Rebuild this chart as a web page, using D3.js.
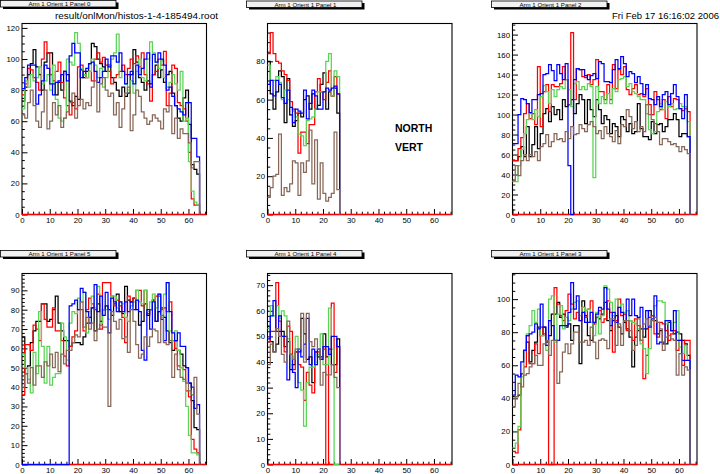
<!DOCTYPE html>
<html><head><meta charset="utf-8">
<script src="https://cdn.jsdelivr.net/npm/d3@7"></script>
<style>
body{margin:0;background:#fff}
svg{display:block}
text{font-family:"Liberation Sans",Arial,Helvetica,sans-serif}
</style>
</head><body><svg id="c" width="720" height="474"></svg>
<script>
// ---------- data ----------
const panelTitles = ["Arm 1 Orient 1 Panel 0","Arm 1 Orient 1 Panel 1","Arm 1 Orient 1 Panel 2",
                     "Arm 1 Orient 1 Panel 5","Arm 1 Orient 1 Panel 4","Arm 1 Orient 1 Panel 3"];
const fileLabel = "result/onlMon/histos-1-4-185494.root";
const dateLabel = "Fri Feb 17 16:16:02 2006";
const noteLines = ["NORTH","VERT"];
const xTickValues = [0,10,20,30,40,50,60];
const xAxisMax = 66.5;
const yMajorStep = [20,20,20,10,10,20];
const yMinorStep = [5,5,5,2,2,5];

// Panel 0
const p0Black = [73,82,90,97,106,95,90,80,98,104,104,84,77,85,80,92,90,73,70,76,74,93,88,92,97,110,108,100,97,95,92,96,88,85,80,76,82,76,78,90,106,98,88,85,80,86,84,90,96,88,93,85,90,92,78,70,62,60,75,80,58,32,29,26];
const p0Red   = [77,84,94,93,88,85,80,100,111,104,90,86,92,98,85,75,70,64,72,68,95,96,90,88,92,86,100,104,98,101,96,92,84,88,90,92,96,90,94,100,97,102,95,104,90,84,73,90,92,100,96,105,70,78,96,94,72,70,68,60,40,10,6,6];
const p0Green = [68,86,82,90,86,88,95,84,86,90,80,96,74,62,60,62,100,98,96,117,110,94,90,88,92,100,96,88,94,82,88,96,100,104,116,88,92,84,80,86,78,92,100,88,86,100,111,104,98,94,99,88,82,85,90,84,80,92,60,62,34,15,8,6];
const p0Blue  = [81,88,96,96,96,71,77,86,96,94,84,77,85,86,90,92,86,102,110,104,104,88,92,94,97,98,92,85,88,92,100,95,102,102,98,104,92,84,90,92,84,96,90,94,100,104,82,103,98,104,100,96,80,82,76,70,68,66,64,72,72,49,49,37];
const p0Brown = [64,62,72,80,70,60,56,66,80,55,60,72,64,70,56,62,66,72,78,62,70,74,68,72,70,82,86,66,84,88,80,76,78,64,72,56,68,78,82,54,64,80,76,66,62,58,60,64,62,60,55,68,66,70,52,62,49,55,52,52,46,30,34,34];

// Panel 1
const p1Black = [80,63,55,64,75,72,48,71,52,46,49,53,51,60,62,55,63,55,57,68,74,55,64,62,66,53];
const p1Red   = [84,95,84,80,79,75,73,70,59,55,53,32,43,43,37,47,47,64,71,64,60,69,75,62,72,63];
const p1Green = [78,70,70,72,69,60,65,60,56,54,51,42,41,36,49,50,51,55,64,64,64,80,84,62,75,72];
const p1Blue  = [68,70,62,70,68,61,58,65,56,48,55,54,53,65,50,58,65,62,55,55,64,66,65,66,67,63];
const p1Brown = [9,14,20,21,42,10,14,12,16,28,27,10,27,22,28,44,16,39,8,27,11,7,9,11,43,13];

// Panel 2
const p2Black = [54,54,58,68,58,88,58,70,88,66,81,101,106,93,108,100,105,95,115,108,110,115,101,111,120,115,91,115,105,98,115,105,91,99,95,81,91,88,78,98,95,83,91,81,83,111,86,78,78,75,93,81,90,91,83,88,95,95,101,95,78,81,81,78];
const p2Red   = [54,54,66,77,101,111,96,101,90,148,88,123,130,103,130,128,128,131,148,135,110,182,115,146,145,138,137,140,130,135,155,123,123,115,130,115,150,126,145,140,148,125,120,126,130,120,121,118,126,110,100,123,115,105,115,96,118,108,116,115,106,104,106,103];
const p2Green = [33,33,49,65,81,95,101,95,105,98,118,129,123,111,125,118,125,128,126,135,125,108,131,133,125,128,125,131,128,37,128,111,118,111,121,111,126,123,135,136,138,128,131,123,121,118,115,115,101,85,81,83,103,111,105,113,108,111,105,106,111,108,108,93];
const p2Blue  = [71,71,100,116,115,111,102,115,115,120,121,140,141,150,144,134,150,141,135,151,49,0,135,146,145,145,139,135,139,141,136,153,151,133,133,132,145,155,146,158,151,138,143,141,132,138,131,120,130,116,115,110,118,108,120,123,110,121,130,118,106,96,120,78];
const p2Brown = [34,49,39,54,60,54,60,58,63,54,68,71,80,68,73,81,75,76,73,83,76,88,80,81,90,86,83,90,93,88,81,84,76,88,81,78,73,84,71,90,88,105,98,86,93,83,88,83,110,100,95,91,83,70,76,76,73,70,71,68,63,68,65,61];

// Panel 5 (bottom left)
const p3Black = [66,47,51,63,69,74,74,83,83,74,75,80,87,73,69,64,64,61,63,63,63,62,66,73,76,81,69,83,74,80,82,80,77,83,88,79,78,92,85,84,86,80,72,74,83,77,80,85,74,79,81,76,69,63,59,64,59,57,51,50,42,33,19,18];
const p3Red   = [36,62,62,59,72,70,64,83,75,71,71,81,69,69,64,56,51,61,66,69,80,80,69,80,86,83,80,88,70,94,94,94,87,82,85,82,76,63,87,84,86,90,90,82,90,78,80,85,87,87,80,81,79,84,64,60,51,50,49,38,35,13,8,6];
const p3Green = [57,50,44,37,58,47,79,61,42,61,41,45,47,47,73,66,54,73,79,78,86,84,89,68,79,87,81,92,73,80,80,75,87,87,81,84,83,76,74,82,84,90,84,83,90,79,84,88,81,88,76,88,94,69,64,69,59,50,43,30,15,6,6,5];
const p3Blue  = [0,0,0,0,0,0,0,0,0,0,0,0,0,0,0,0,0,82,83,85,80,91,89,79,73,81,93,79,87,77,89,68,86,84,79,84,79,84,79,84,80,85,79,59,54,80,70,84,74,88,75,64,94,79,68,64,68,61,61,50,42,40,29,31];
const p3Brown = [40,47,42,50,41,51,51,45,53,51,57,50,58,48,57,52,59,59,63,67,66,84,71,76,70,73,64,70,72,71,71,30,79,74,70,75,65,66,58,80,74,62,55,57,66,61,66,70,69,63,77,63,62,64,45,57,49,45,44,42,38,36,45,26];

// Panel 4 (bottom middle)
const p4Black = [54,48,44,47,52,52,46,48,37,39,44,44,57,51,41,42,32,44,42,42,51,42,45,39,39,49];
const p4Red   = [48,52,52,71,56,50,44,54,52,37,44,39,38,25,36,31,28,44,44,41,45,0,45,63,36,46];
const p4Green = [53,62,58,62,57,60,58,49,39,42,50,32,29,15,32,38,38,40,43,51,39,39,61,45,0,0];
const p4Blue  = [49,58,64,52,58,50,50,33,43,36,30,45,42,47,57,39,45,39,45,41,46,46,43,50,50,46];
const p4Brown = [39,47,44,53,50,43,40,56,43,41,45,45,59,40,59,48,46,49,45,31,36,35,35,39,34,30];

// Panel 3 (bottom right)
const p5Black = [41,41,42,55,69,74,62,69,74,83,78,83,74,78,91,91,98,89,91,83,85,75,84,84,61,99,90,78,75,85,89,88,91,98,87,81,87,90,83,79,86,82,77,59,77,81,82,77,82,93,90,87,79,81,73,73,86,81,79,80,79,75,73,66];
const p5Red   = [8,7,21,55,59,78,61,61,73,67,83,79,74,0,0,107,97,90,87,93,103,97,88,92,87,95,89,94,99,85,89,93,86,88,99,92,68,87,100,90,91,81,87,75,88,84,75,52,66,89,90,79,77,86,85,81,75,79,81,69,75,60,75,75];
const p5Green = [10,13,23,53,69,79,84,93,86,94,78,78,69,100,102,74,91,96,82,89,87,94,98,99,90,95,93,94,86,78,92,79,90,108,106,98,90,100,95,97,92,93,87,86,85,82,73,70,55,70,87,96,99,99,98,85,87,81,86,93,71,67,72,63];
const p5Blue  = [42,54,53,62,69,78,79,80,85,82,97,83,72,87,84,75,75,84,84,84,92,110,94,102,87,92,86,86,92,86,91,95,94,107,94,84,92,86,95,92,87,100,90,100,90,89,95,82,93,83,88,102,73,74,74,87,87,81,93,75,75,63,63,63];
const p5Brown = [35,41,49,47,54,55,59,61,66,60,60,73,75,66,75,75,49,56,68,73,67,73,80,80,74,74,75,72,83,74,64,75,76,75,70,88,88,72,85,72,87,87,81,69,72,88,75,85,88,84,87,89,86,82,69,77,78,76,75,54,67,54,59,57];

const seriesColors = {black:"#000000", red:"#ff0000", green:"#59d454", blue:"#0000ff", brown:"#876657"};
const drawOrder = ["black","red","green","blue","brown"];
const panelData = [
  {black:p0Black, red:p0Red, green:p0Green, blue:p0Blue, brown:p0Brown},
  {black:p1Black, red:p1Red, green:p1Green, blue:p1Blue, brown:p1Brown},
  {black:p2Black, red:p2Red, green:p2Green, blue:p2Blue, brown:p2Brown},
  {black:p3Black, red:p3Red, green:p3Green, blue:p3Blue, brown:p3Brown},
  {black:p4Black, red:p4Red, green:p4Green, blue:p4Blue, brown:p4Brown},
  {black:p5Black, red:p5Red, green:p5Green, blue:p5Blue, brown:p5Brown}
];

// ---------- layout ----------
const frameLeft = [22, 267.5, 512.5, 22, 267.5, 512.5];
const frameTop  = [23.5, 23.5, 23.5, 273.5, 273.5, 273.5];
const frameW = 184.5, frameH = 191;
const boxX = [0.5, 246.5, 491.5, 0.5, 246.5, 491.5];
const boxY = [0.5, 1, 1, 250.5, 250.5, 250.5];

const svg = d3.select("#c");

panelData.forEach((pd, k) => {
  const L = frameLeft[k], T = frameTop[k];
  const allMax = d3.max(drawOrder, s => d3.max(pd[s]));
  const ymax = allMax * 1.05;
  const x = d3.scaleLinear().domain([0, xAxisMax]).range([L, L + frameW]);
  const y = d3.scaleLinear().domain([0, ymax]).range([T + frameH, T]);
  const g = svg.append("g");

  // frame
  g.append("rect").attr("x", L).attr("y", T).attr("width", frameW).attr("height", frameH)
    .attr("fill", "none").attr("stroke", "#000").attr("stroke-width", 1.1);

  // axes
  const majY = d3.range(0, ymax + 1e-6, yMajorStep[k]);
  const minY = d3.range(0, ymax, yMinorStep[k]).filter(v => v % yMajorStep[k] !== 0);
  const ya = g.append("g").attr("transform", `translate(${L},0)`)
    .call(d3.axisLeft(y).tickValues(majY).tickSize(-5.5).tickPadding(2.5).tickFormat(d3.format("d")));
  const ym = g.append("g").attr("transform", `translate(${L},0)`)
    .call(d3.axisLeft(y).tickValues(minY).tickSize(-2.8).tickFormat(""));
  const xa = g.append("g").attr("transform", `translate(0,${T + frameH})`)
    .call(d3.axisBottom(x).tickValues(xTickValues).tickSize(-5.5).tickPadding(3).tickFormat(d3.format("d")));
  const xMinor = d3.range(0, xAxisMax, 2).filter(v => v % 10 !== 0);
  const xm = g.append("g").attr("transform", `translate(0,${T + frameH})`)
    .call(d3.axisBottom(x).tickValues(xMinor).tickSize(-2.8).tickFormat(""));
  [ya, ym, xa, xm].forEach(a => {
    a.select(".domain").remove();
    a.selectAll("line").attr("stroke", "#000").attr("stroke-width", 1);
    a.selectAll("text").attr("font-family", "Liberation Sans, Arial, sans-serif")
      .attr("font-size", 7.8).attr("fill", "#000");
  });

  // red zero line along the whole axis (empty bins of the red histogram)
  g.append("line").attr("x1", x(0)).attr("x2", x(xAxisMax)).attr("y1", y(0)).attr("y2", y(0))
    .attr("stroke", seriesColors.red).attr("stroke-width", 1.5);

  // series (step histograms)
  const line = d3.line().x(d => x(d[0])).y(d => y(d[1])).curve(d3.curveStepAfter);
  drawOrder.forEach(s => {
    const vals = pd[s];
    const pts = vals.map((v, i) => [i, v]);
    pts.push([vals.length, 0]);
    g.append("path").attr("d", line(pts)).attr("fill", "none")
      .attr("stroke", seriesColors[s]).attr("stroke-width", 1.25);
  });

  // title box
  const bx = boxX[k], by = boxY[k];
  g.append("rect").attr("x", bx + 2.5).attr("y", by + 2).attr("width", 115.5).attr("height", 6.5).attr("fill", "#000");
  g.append("rect").attr("x", bx).attr("y", by).attr("width", 115.5).attr("height", 6.5)
    .attr("fill", "#f2f2f2").attr("stroke", "#000").attr("stroke-width", 0.8);
  g.append("text").attr("x", bx + 59).attr("y", by + 5.6).attr("text-anchor", "middle")
    .attr("font-size", 6).attr("textLength", 62).attr("lengthAdjust", "spacingAndGlyphs")
    .text(panelTitles[k]);
});

// header texts
svg.append("text").attr("x", 55).attr("y", 18.8).attr("font-size", 8.6)
  .attr("textLength", 163).attr("lengthAdjust", "spacingAndGlyphs").text(fileLabel);
svg.append("text").attr("x", 612).attr("y", 18.8).attr("font-size", 8.6)
  .attr("textLength", 107).attr("lengthAdjust", "spacingAndGlyphs").text(dateLabel);

// NORTH / VERT
svg.append("text").attr("x", 395).attr("y", 132).attr("font-size", 10.5).attr("font-weight", "bold").text(noteLines[0]);
svg.append("text").attr("x", 395).attr("y", 150.7).attr("font-size", 10.5).attr("font-weight", "bold").text(noteLines[1]);
</script>
</body></html>
